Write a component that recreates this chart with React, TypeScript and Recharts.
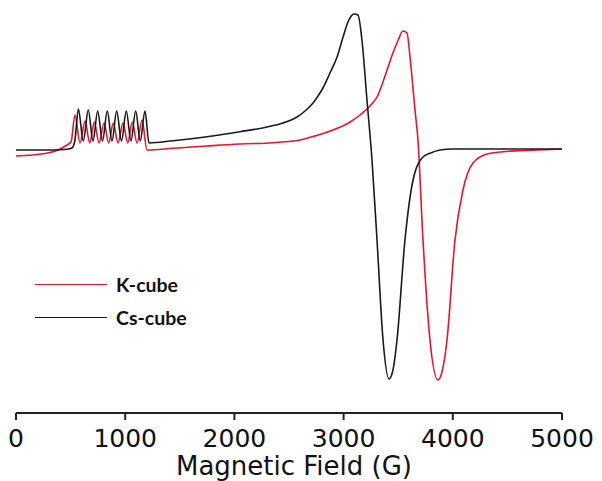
import React from 'react';
import { LineChart, Line, XAxis, YAxis, Legend } from 'recharts';

// EPR spectra (field in G, signal in arbitrary units)
const kField = [0, 265, 385, 467, 504, 540, 586, 632, 675, 717, 760, 806, 849, 891, 934, 980, 1023, 1065, 1108, 1154, 1200, 1438, 1749, 2051, 2353, 2601, 2720, 2840, 2960, 3060, 3150, 3242, 3306, 3361, 3410, 3452, 3500, 3544, 3581, 3608, 3654, 3681, 3727, 3791, 3864, 3901, 3947, 4020, 4093, 4185, 4313, 4460, 4615, 4771, 5000];
const kSignal = [-6, -3.5, 0, 5, 8, 35, 7, 29, 7, 28, 7, 27, 7, 27, 7, 27, 7, 28, 7, 30, 0, 1.7, 4, 6, 7.3, 10, 13.5, 17.5, 22.5, 28, 35, 44, 53, 68, 84, 97, 110, 119, 117, 93, 40, 10, -90, -190, -230, -222, -190, -90, -40, -13, -4, -1.7, -0.7, 0, 1];

const csField = [0, 220, 449, 513, 540, 571, 616, 662, 705, 748, 792, 836, 879, 922, 966, 1010, 1053, 1096, 1138, 1181, 1218, 1438, 1749, 2051, 2299, 2445, 2509, 2573, 2647, 2720, 2766, 2811, 2875, 2940, 2995, 3040, 3095, 3132, 3168, 3214, 3260, 3306, 3361, 3416, 3452, 3489, 3562, 3636, 3727, 3791, 3883, 4002, 5000];
const csSignal = [0, 0, 0.5, 2, 10, 41, 9, 40, 9, 39, 9, 39, 9, 39, 9, 39, 9, 39, 9, 39, 7, 9.3, 13.3, 18.3, 23, 27, 29.5, 33, 39, 47, 54, 62, 77, 93, 113, 128, 136, 135, 110, 50, -10, -90, -190, -229, -220, -190, -90, -30, -7, -3.3, 0, 1, 1];

const fieldTicks = [0, 1000, 2000, 3000, 4000, 5000];
const seriesOrder = ['K-cube', 'Cs-cube'];

const kData = kField.map((field, i) => ({ field, signal: kSignal[i] }));
const csData = csField.map((field, i) => ({ field, signal: csSignal[i] }));

const renderLegend = (props: any) => {
  const items = [...(props.payload || [])].sort(
    (a: any, b: any) => seriesOrder.indexOf(a.value) - seriesOrder.indexOf(b.value)
  );
  return (
    <div>
      {items.map((entry: any) => (
        <div key={entry.value} style={{ display: 'flex', alignItems: 'center', height: 32.7 }}>
          <div style={{ width: 72, borderTop: `1.5px solid ${entry.color}` }} />
          <span style={{ marginLeft: 9, fontFamily: 'Lato', fontWeight: 700, fontSize: 19.5, color: '#111' }}>
            {entry.value}
          </span>
        </div>
      ))}
    </div>
  );
};

export default function App() {
  return (
    <div style={{ position: 'absolute', left: 0, top: 0, width: 602, height: 481, background: '#fff' }}>
      <LineChart width={602} height={481} margin={{ top: 0, right: 40, bottom: 0, left: 16 }}>
        <XAxis
          type="number"
          dataKey="field"
          domain={[0, 5000]}
          ticks={fieldTicks}
          height={68}
          tickSize={7}
          tickMargin={9}
          axisLine={{ stroke: '#222', strokeWidth: 2 }}
          tickLine={{ stroke: '#222', strokeWidth: 2 }}
          tick={{ fill: '#111', fontSize: 25, fontFamily: 'DejaVu Sans' }}
          label={{
            value: 'Magnetic Field (G)',
            position: 'insideBottom',
            offset: 6,
            dx: 5,
            fill: '#111',
            fontSize: 26,
            fontFamily: 'DejaVu Sans',
          }}
        />
        <YAxis type="number" dataKey="signal" domain={[-263, 150]} hide allowDataOverflow />
        <Legend
          layout="vertical"
          align="center"
          verticalAlign="middle"
          content={renderLegend}
          wrapperStyle={{ left: 35, top: 268, width: 220 }}
        />
        <Line
          data={kData}
          dataKey="signal"
          name="K-cube"
          type="monotone"
          stroke="#e8152e"
          strokeWidth={1.6}
          dot={false}
          isAnimationActive={false}
        />
        <Line
          data={csData}
          dataKey="signal"
          name="Cs-cube"
          type="monotone"
          stroke="#1a1a1a"
          strokeWidth={1.6}
          dot={false}
          isAnimationActive={false}
        />
      </LineChart>
    </div>
  );
}
